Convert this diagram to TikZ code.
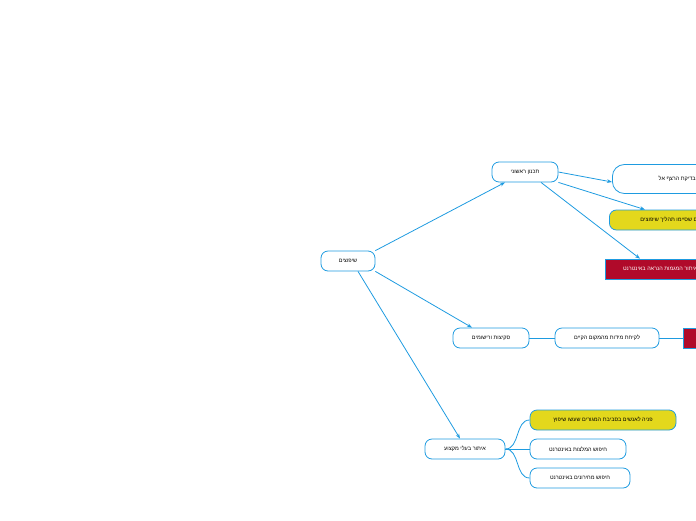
\documentclass[tikz,border=0pt]{standalone}
\usepackage{fontspec}
\usetikzlibrary{arrows.meta}
\setmainfont{Liberation Sans}
\TeXXeTstate=1
\definecolor{ln}{HTML}{1E9BE0}
\definecolor{rd}{HTML}{B00A2A}
\definecolor{yl}{HTML}{E3D81C}
\tikzset{x=1pt,y=-1pt,
 box/.style={draw=ln,line width=0.8pt,rounded corners=7pt,fill=white,minimum height=20pt,font=\fontsize{5.5}{6}\selectfont,inner sep=2pt},
 ybox/.style={box,fill=yl},
 rbox/.style={draw=ln,fill=rd,text=white,line width=0.6pt,minimum height=20pt,font=\fontsize{5.5}{6}\selectfont,inner sep=2pt,anchor=west},
 arr/.style={draw=ln,line width=0.8pt,-{Stealth[length=5pt]}},
 ln/.style={draw=ln,line width=0.8pt}}
\newcommand{\heb}[1]{\beginR #1\endR}
\begin{document}
\begin{tikzpicture}
\useasboundingbox (0,0) rectangle (696,520);
\clip (0,0) rectangle (696,520);
\node[box,minimum width=54pt] (root) at (348,261) {\heb{שיפוצים}};
\node[box,minimum width=66pt] (plan) at (525,172) {\heb{תכנון ראשוני}};
\node[box,minimum width=120pt,minimum height=29pt,rounded corners=12pt,anchor=west] (b1) at (612,179) {\hspace{26pt}\heb{חידוש ובדיקת הרצף אל}};
\node[ybox,minimum width=120pt,anchor=west] (b2) at (609,220) {\hspace{10pt}\heb{אנשים שסיימו תהליך שיפוצים}};
\node[rbox,minimum width=110pt] (b3) at (605,269) {\heb{איתור המגמות הנראה באינטרנט}};
\node[box,minimum width=76pt] (sk) at (491,338) {\heb{סקיצות ורישומים}};
\node[box,minimum width=104pt] (me) at (607,338) {\heb{לקיחת מידות מהמקום הקיים}};
\node[rbox,minimum width=40pt] (r2) at (683,338) {\hspace{6pt}\heb{סקיצות}};
\node[box,minimum width=80pt] (pro) at (465,449) {\heb{איתור בעלי מקצוע}};
\node[ybox,minimum width=146pt] (c1) at (603,420) {\heb{פניה לאנשים בסביבת המגורים שעשו שיפוץ}};
\node[box,minimum width=96pt] (c2) at (578,449) {\heb{חיפוש המלצות באינטרנט}};
\node[box,minimum width=100pt] (c3) at (580,478) {\heb{חיפוש מחירונים באינטרנט}};
\draw[arr] (root.north east) -- ([xshift=-20pt]plan.south);
\draw[arr] (root.south east) -- ([xshift=-19pt]sk.north);
\draw[arr] ([xshift=10pt]root.south) -- ([xshift=-5pt]pro.north);
\draw[arr] (plan.east) -- ([yshift=-3pt]b1.west);
\draw[arr] (plan.south east) -- ([xshift=36pt]b2.north west);
\draw[arr] ([xshift=16pt]plan.south) -- ([xshift=35pt]b3.north west);
\draw[ln] (sk) -- (me) (me) -- (r2);
\draw[ln] (pro.east) .. controls (520,449) and (515,420) .. (c1.west);
\draw[ln] (pro.east) -- (c2.west);
\draw[ln] (pro.east) .. controls (520,449) and (515,478) .. (c3.west);
\end{tikzpicture}
\end{document}
